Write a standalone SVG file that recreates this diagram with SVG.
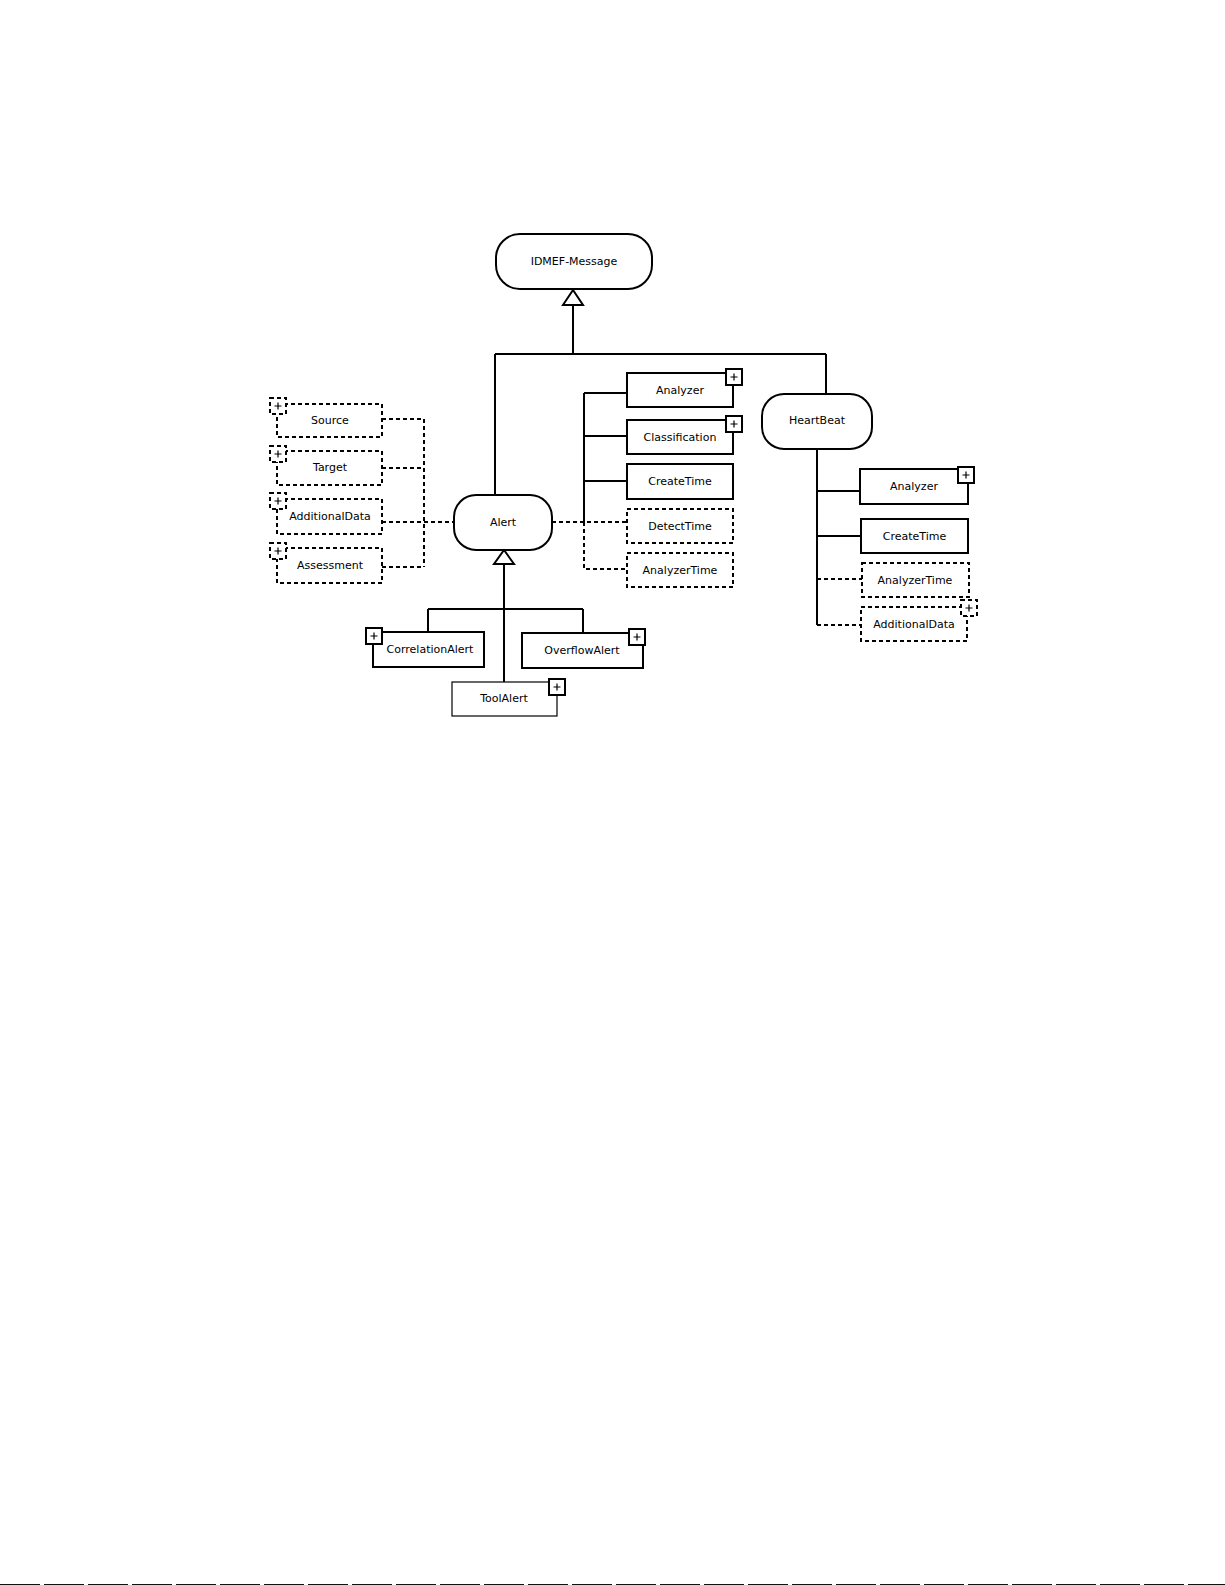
<svg xmlns="http://www.w3.org/2000/svg" xmlns:xlink="http://www.w3.org/1999/xlink" width="1225" height="1585" viewBox="0 0 1225 1585">
<style>
.bg{fill:#fff}
.box{fill:#fff;stroke:#000;stroke-width:2}
.thin{fill:#fff;stroke:#000;stroke-width:1.2}
.dbox{fill:#fff;stroke:#000;stroke-width:2;stroke-dasharray:4,3}
.round{fill:#fff;stroke:#000;stroke-width:2}
.ln{fill:none;stroke:#000;stroke-width:2}
.dl{fill:none;stroke:#000;stroke-width:2;stroke-dasharray:4,3}
.tri{fill:#fff;stroke:#000;stroke-width:2}
text{font-family:"DejaVu Sans","Liberation Sans",sans-serif;font-size:11px;fill:#000;text-anchor:middle}
</style>
<defs>
<g id="plus"><rect x="0" y="0" width="16" height="16" fill="#fff" stroke="#000" stroke-width="2"/><path d="M8 4.5V11.5M4.5 8H11.5" stroke="#000" stroke-width="1.2" fill="none"/></g>
<g id="dplus"><rect x="0" y="0" width="16" height="16" fill="#fff" stroke="#000" stroke-width="2" stroke-dasharray="4,3"/><path d="M8 4.5V11.5M4.5 8H11.5" stroke="#000" stroke-width="1.2" fill="none"/></g>
</defs>
<rect class="bg" x="0" y="0" width="1225" height="1585"/>

<g id="connectors">
<path class="ln" d="M573 305V354M495 354H826M495 354V495M826 354V394"/>
<polygon class="tri" points="573,290 563,305 583,305"/>
<path class="ln" d="M584 393V522M584 393H627M584 436H627M584 481H627"/>
<path class="dl" d="M552 522H627M584 522V569H627"/>
<path class="dl" d="M382 419H424M382 468H424M382 567H424M382 522H454M424 419V567"/>
<path class="ln" d="M817 449V625M817 491H860M817 536H861"/>
<path class="dl" d="M817 579H862M817 625H861"/>
<path class="ln" d="M504 564V682M428 609H583M428 609V632M583 609V633"/>
<polygon class="tri" points="504,550 494,564 514,564"/>
</g>

<g id="idmef-message"><rect class="round" x="496" y="234" width="156" height="55" rx="24"/><text x="574" y="265">IDMEF-Message</text></g>
<g id="alert"><rect class="round" x="454" y="495" width="98" height="55" rx="22"/><text x="503" y="526">Alert</text></g>
<g id="heartbeat"><rect class="round" x="762" y="394" width="110" height="55" rx="22"/><text x="817" y="424">HeartBeat</text></g>

<g id="alert-analyzer"><rect class="box" x="627" y="373" width="106" height="34"/><text x="680" y="394">Analyzer</text><use xlink:href="#plus" x="726" y="369"/></g>
<g id="alert-classification"><rect class="box" x="627" y="420" width="106" height="34"/><text x="680" y="441">Classification</text><use xlink:href="#plus" x="726" y="416"/></g>
<g id="alert-createtime"><rect class="box" x="627" y="464" width="106" height="35"/><text x="680" y="485">CreateTime</text></g>
<g id="alert-detecttime"><rect class="dbox" x="627" y="509" width="106" height="34"/><text x="680" y="530">DetectTime</text></g>
<g id="alert-analyzertime"><rect class="dbox" x="627" y="553" width="106" height="34"/><text x="680" y="574">AnalyzerTime</text></g>

<g id="source"><rect class="dbox" x="277" y="404" width="105" height="33"/><text x="330" y="424">Source</text><use xlink:href="#dplus" x="270" y="398"/></g>
<g id="target"><rect class="dbox" x="277" y="451" width="105" height="34"/><text x="330" y="471">Target</text><use xlink:href="#dplus" x="270" y="446"/></g>
<g id="alert-additionaldata"><rect class="dbox" x="277" y="499" width="105" height="35"/><text x="330" y="520">AdditionalData</text><use xlink:href="#dplus" x="270" y="493"/></g>
<g id="assessment"><rect class="dbox" x="277" y="548" width="105" height="35"/><text x="330" y="569">Assessment</text><use xlink:href="#dplus" x="270" y="543"/></g>

<g id="hb-analyzer"><rect class="box" x="860" y="469" width="108" height="35"/><text x="914" y="490">Analyzer</text><use xlink:href="#plus" x="958" y="467"/></g>
<g id="hb-createtime"><rect class="box" x="861" y="519" width="107" height="34"/><text x="914.5" y="540">CreateTime</text></g>
<g id="hb-analyzertime"><rect class="dbox" x="862" y="563" width="107" height="34"/><text x="915" y="584">AnalyzerTime</text></g>
<g id="hb-additionaldata"><rect class="dbox" x="861" y="607" width="106" height="34"/><text x="914" y="628">AdditionalData</text><use xlink:href="#dplus" x="961" y="600"/></g>

<g id="correlationalert"><rect class="box" x="373" y="632" width="111" height="35"/><text x="430" y="653">CorrelationAlert</text><use xlink:href="#plus" x="366" y="628"/></g>
<g id="overflowalert"><rect class="box" x="522" y="633" width="121" height="35"/><text x="582" y="654">OverflowAlert</text><use xlink:href="#plus" x="629" y="629"/></g>
<g id="toolalert"><rect class="thin" x="452" y="682" width="105" height="34"/><text x="504" y="702">ToolAlert</text><use xlink:href="#plus" x="549" y="679"/></g>

<line x1="0" y1="1584.5" x2="1225" y2="1584.5" stroke="#111" stroke-width="1" stroke-dasharray="40,4"/>
</svg>
